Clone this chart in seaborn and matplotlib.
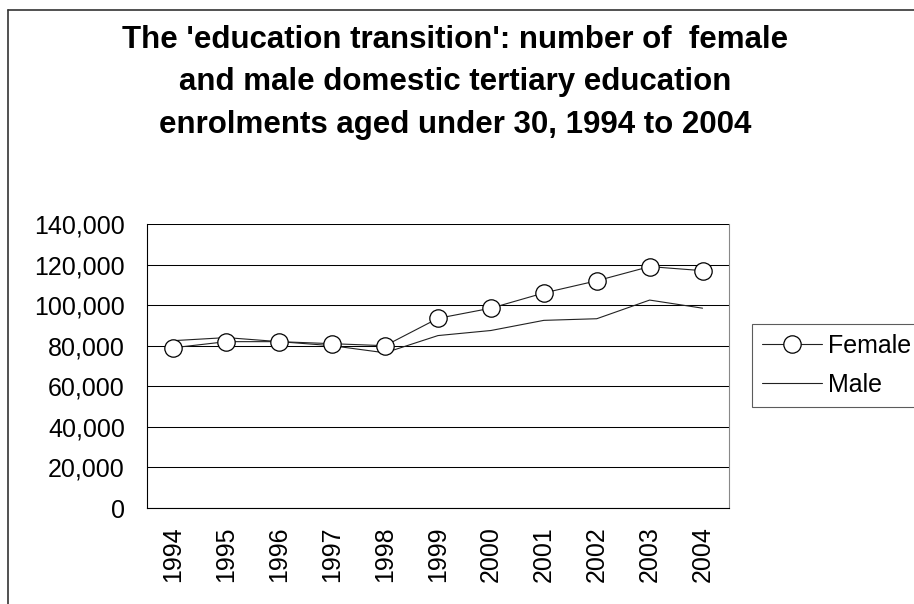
import matplotlib
matplotlib.use('Agg')
import matplotlib.pyplot as plt
from matplotlib.lines import Line2D
from matplotlib.ticker import FuncFormatter, FixedLocator
import pandas as pd
import seaborn as sns

YEARS = [1994, 1995, 1996, 1997, 1998, 1999, 2000, 2001, 2002, 2003, 2004]
FEMALE = [79000, 82000, 82000, 81000, 80000, 93500, 98500, 106000, 112000, 119000, 117000]
MALE = [82500, 84000, 82000, 80000, 76500, 85000, 87500, 92500, 93300, 102500, 98500]
TITLE_LINES = ["The 'education transition': number of  female",
               "and male domestic tertiary education",
               "enrolments aged under 30, 1994 to 2004"]

sns.set_style('white')
plt.rcParams['font.family'] = ['Liberation Sans', 'DejaVu Sans']
plt.rcParams['text.color'] = 'black'
plt.rcParams['xtick.color'] = 'black'
plt.rcParams['ytick.color'] = 'black'

DF = pd.DataFrame({'year': YEARS, 'Female': FEMALE, 'Male': MALE})

fig = plt.figure(figsize=(9.14, 6.04), dpi=100)
ax = fig.add_axes([147 / 914, 96 / 604, (729 - 147) / 914, (508 - 224) / 604])

sns.lineplot(data=DF, x='year', y='Female', ax=ax, color='#222222', lw=0.8,
             marker='o', markersize=12.5, markerfacecolor='white',
             markeredgecolor='black', markeredgewidth=0.9, label='Female', zorder=4)
sns.lineplot(data=DF, x='year', y='Male', ax=ax, color='#222222', lw=0.8,
             label='Male', zorder=3)

ax.set_xlim(YEARS[0] - 0.5, YEARS[-1] + 0.5)
ax.set_ylim(0, 140000)
ax.set_yticks(range(0, 140001, 20000))
ax.yaxis.set_major_formatter(FuncFormatter(lambda v, p: f'{int(v):,}'))
ax.set_xticks(YEARS)
ax.set_xticklabels([str(y) for y in YEARS], rotation=90)
ax.xaxis.set_minor_locator(FixedLocator([y - 0.5 for y in YEARS] + [YEARS[-1] + 0.5]))
ax.tick_params(axis='x', which='major', length=0, pad=13, labelsize=18)
ax.tick_params(axis='x', which='minor', length=6, width=0.8, direction='out', color='black')
ax.tick_params(axis='y', length=6, width=0.8, direction='out', color='black', pad=10, labelsize=18)
ax.set_xlabel('')
ax.set_ylabel('')

ax.yaxis.grid(True, color='black', lw=0.75)
ax.set_axisbelow(True)
for side in ['left', 'bottom']:
    ax.spines[side].set_color('black')
    ax.spines[side].set_linewidth(0.8)
ax.spines['top'].set_visible(False)
ax.spines['right'].set_color('#888888')
ax.spines['right'].set_linewidth(0.8)

ax.get_legend().remove()
handles, labels = ax.get_legend_handles_labels()
leg = fig.legend(handles, labels, loc='upper left', bbox_to_anchor=(752 / 914, 1 - 324 / 604),
                 fontsize=18, frameon=True, fancybox=False, borderaxespad=0,
                 handlelength=2.4, handletextpad=0.25, borderpad=0.4, labelspacing=0.6)
leg.get_frame().set_edgecolor('#333333')
leg.get_frame().set_linewidth(0.8)

for i, line in enumerate(TITLE_LINES):
    fig.text(0.498, 1 - [48, 90, 133][i] / 604, line, ha='center', va='baseline',
             fontsize=22.5, fontweight='bold')

# outer chart frame (right/bottom edges fall outside the image)
fig.add_artist(Line2D([8 / 914, 1.0], [1 - 10 / 604] * 2, color='#333333', lw=1.2))
fig.add_artist(Line2D([8 / 914] * 2, [0.0, 1 - 10 / 604], color='#333333', lw=1.2))

fig.savefig('out.png', dpi=100)
